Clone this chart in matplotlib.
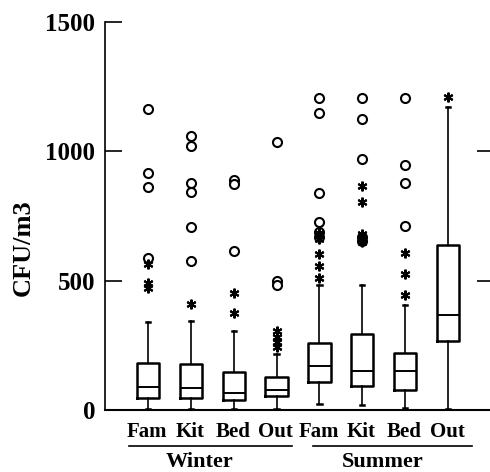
import matplotlib
matplotlib.use("Agg")
import matplotlib.pyplot as plt

plt.rcParams['font.family'] = ['Liberation Serif', 'DejaVu Serif']
plt.rcParams['font.weight'] = 'bold'

# ---- data (CFU/m3) ----
locations = ["Fam", "Kit", "Bed", "Out", "Fam", "Kit", "Bed", "Out"]
seasons = ["Winter", "Summer"]
whisker_low = [2, 2, 2, 5, 23, 18, 9, 2]
q1 = [47, 47, 38, 54, 108, 93, 79, 266]
medians = [87, 85, 65, 78, 171, 151, 151, 366]
q3 = [180, 176, 146, 128, 260, 294, 219, 638]
whisker_high = [342, 346, 305, 218, 484, 485, 406, 1170]
outliers_circle = [
    [1164, 917, 863, 587],
    [1058, 1019, 878, 843, 708, 577],
    [891, 872, 615],
    [1035, 500, 485],
    [1205, 1147, 840, 728, 690, 670],
    [1205, 1124, 970, 670, 655],
    [1205, 946, 878, 711],
    [],
]
extremes_star = [
    [565, 490, 470],
    [408],
    [453, 374],
    [305, 282, 263, 243],
    [685, 675, 660, 603, 558, 510],
    [865, 804, 680, 662, 650],
    [606, 524, 446],
    [1210],
]
y_ticks = [0, 500, 1000, 1500]
y_label = "CFU/m3"

fig = plt.figure(figsize=(4.9, 4.72), dpi=100)
ax = fig.add_axes([105/490, 1-410/472, 386/490, 388/472])

positions = list(range(1, len(locations) + 1))
stats = []
for i in range(len(locations)):
    stats.append(dict(whislo=whisker_low[i], q1=q1[i], med=medians[i],
                      q3=q3[i], whishi=whisker_high[i], fliers=[]))

ax.bxp(stats, positions=positions, widths=0.52, showfliers=False,
       capwidths=0.1,
       boxprops=dict(color='black', linewidth=1.8),
       medianprops=dict(color='black', linewidth=1.4),
       whiskerprops=dict(color='black', linewidth=1.2),
       capprops=dict(color='black', linewidth=1.8))

for p, vals in zip(positions, outliers_circle):
    if vals:
        ax.plot([p] * len(vals), vals, linestyle='none', marker='o',
                markersize=6.5, markerfacecolor='white',
                markeredgecolor='black', markeredgewidth=1.5, zorder=3)
for p, vals in zip(positions, extremes_star):
    if vals:
        ax.plot([p] * len(vals), vals, linestyle='none', marker=(6, 2, 0),
                markersize=7, markeredgecolor='black',
                markeredgewidth=1.5, zorder=4)

ax.set_xlim(0, 9)
ax.set_ylim(0, 1500)
ax.set_yticks(y_ticks)
ax.set_yticklabels([str(t) for t in y_ticks], fontsize=18, fontweight='bold')
ax.tick_params(axis='y', direction='in', length=12, width=1.2, pad=7)
ax.set_xticks([])
ax.spines['top'].set_visible(False)
ax.spines['right'].set_visible(False)
ax.spines['left'].set_linewidth(1.2)
ax.spines['bottom'].set_linewidth(1.5)
ax.set_ylabel(y_label, fontsize=19, fontweight='bold', va='center')
ax.yaxis.set_label_coords(-0.213, 0.418)

ax2 = ax.twinx()
ax2.set_ylim(0, 1500)
ax2.set_yticks([500, 1000])
ax2.set_yticklabels([])
ax2.tick_params(axis='y', direction='in', length=10, width=1.2)
for s in ax2.spines.values():
    s.set_visible(False)

tr = ax.get_xaxis_transform()
for p, lab in zip(positions, locations):
    ax.text(p - 0.02, -0.056, lab, transform=tr, ha='center', va='center',
            fontsize=15, fontweight='bold')
group_centers = [2.2, 6.47]
for (x0, x1), c, s in zip([(0.55, 4.35), (4.85, 8.55)], group_centers, seasons):
    ax.plot([x0, x1], [-0.094, -0.094], transform=tr, color='black',
            linewidth=1.2, clip_on=False)
    ax.text(c, -0.135, s, transform=tr, ha='center', va='center',
            fontsize=16, fontweight='bold')

fig.savefig("out.png", dpi=100)
